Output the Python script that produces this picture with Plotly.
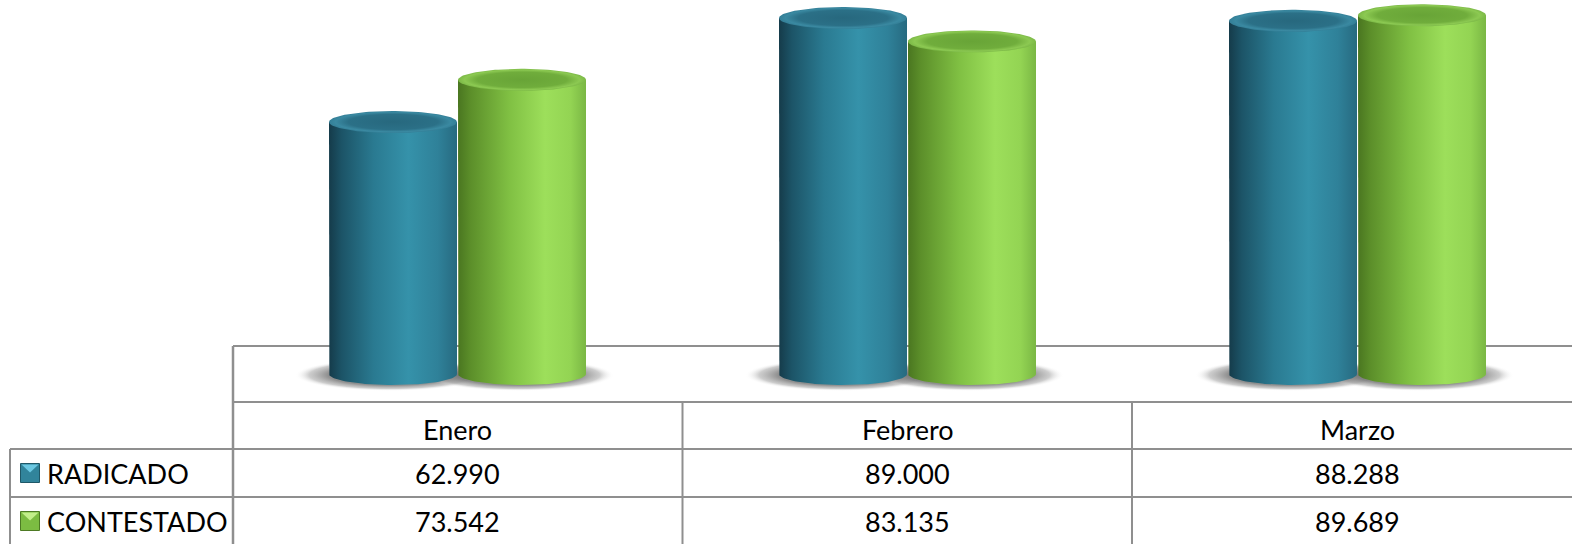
import numpy as np
import plotly.graph_objects as go

# ---------------- data ----------------
categories = ["Enero", "Febrero", "Marzo"]
series_names = ["RADICADO", "CONTESTADO"]
radicado = [62990, 89000, 88288]
contestado = [73542, 83135, 89689]

# ---------------- geometry / style ----------------
W, H = 1572, 544
CAT_PX = 450.0          # pixels per category
CAT0_PX = 457.5         # pixel x of first category centre
BASE_PX = 374.0         # pixel y of value 0
UNITS_PER_PX = 250.0    # value units per vertical pixel
X_RANGE = [-CAT0_PX / CAT_PX, (W - CAT0_PX) / CAT_PX]
Y_RANGE = [-(H - BASE_PX) * UNITS_PER_PX, BASE_PX * UNITS_PER_PX]

HW = 64 / CAT_PX                 # half width of a cylinder (x units)
OFF = 64.5 / CAT_PX              # offset of each cylinder from category centre
RY = 11 * UNITS_PER_PX           # half depth of ellipse (value units)

FONT = "Lato"
FS = 27
LINE_C = "#8f8f8f"

body_scales = [
    [[0, "#153b4a"], [0.1, "#1c5467"], [0.35, "#2a7a91"], [0.62, "#3592aa"],
     [0.85, "#2f8199"], [1, "#276a80"]],
    [[0, "#4a7620"], [0.1, "#5c8f2a"], [0.4, "#80c043"], [0.68, "#9ddf5b"],
     [0.88, "#93d453"], [1, "#7ab744"]],
]
top_scales = [
    [[0, "#27687e"], [0.7, "#2b7087"], [0.9, "#3a89a1"], [1, "#347f97"]],
    [[0, "#68a437"], [0.7, "#70ad3c"], [0.9, "#8cc952"], [1, "#7cb947"]],
]
icon_colors = [("#31849b", "#6cc8e2", "#1f5868"), ("#7cbc42", "#c2ee8a", "#4d7a24")]

values = [radicado, contestado]

fig = go.Figure()

t_low = np.linspace(np.pi, 2 * np.pi, 60)
t_full = np.linspace(0, 2 * np.pi, 120)

# shadows
for s, vals in enumerate(values):
    for i, v in enumerate(vals):
        cx = i + (2 * s - 1) * OFF - 3 / CAT_PX
        sx = HW + 31 / CAT_PX
        sy = 16 * UNITS_PER_PX
        fig.add_trace(go.Scatter(
            x=cx + sx * np.cos(t_full), y=-1 * UNITS_PER_PX + sy * np.sin(t_full),
            mode="lines", line=dict(width=0), fill="toself",
            fillgradient=dict(type="radial", colorscale=[
                [0, "rgba(105,105,105,0.9)"], [0.65, "rgba(115,115,115,0.8)"],
                [0.85, "rgba(155,155,155,0.5)"], [1, "rgba(255,255,255,0)"]]),
            hoverinfo="skip", showlegend=False))

# cylinders
for i in range(len(categories)):
    for s, vals in enumerate(values):
        v = vals[i]
        cx = i + (2 * s - 1) * OFF
        xl, xr = cx - HW, cx + HW
        bx = list(cx + HW * np.cos(t_low))
        by = list(RY * np.sin(t_low))
        xs = [xl, xl] + bx + [xr, xr]
        ys = [v, 0] + by + [0, v]
        xs.append(xl); ys.append(v)
        fig.add_trace(go.Scatter(
            x=xs, y=ys, mode="lines", line=dict(width=0), fill="toself",
            fillgradient=dict(type="horizontal", colorscale=body_scales[s]),
            name=series_names[s], hoverinfo="skip", showlegend=False))
        fig.add_trace(go.Scatter(
            x=cx + HW * np.cos(t_full), y=v + RY * np.sin(t_full),
            mode="lines", line=dict(width=0), fill="toself",
            fillgradient=dict(type="radial", colorscale=top_scales[s]),
            hoverinfo="skip", showlegend=False))

# ---------------- table (drawn in paper coords) ----------------
def px(x):
    return x / W

def py(y):
    return 1 - y / H

shapes = []
def hline(y, x0, x1=W + 20, w=2):
    shapes.append(dict(type="line", xref="paper", yref="paper", x0=px(x0), x1=px(x1),
                       y0=py(y), y1=py(y), line=dict(color=LINE_C, width=w), layer="below"))

def vline(x, y0, y1=H + 10, w=2):
    shapes.append(dict(type="line", xref="paper", yref="paper", x0=px(x), x1=px(x),
                       y0=py(y0), y1=py(y1), line=dict(color=LINE_C, width=w), layer="below"))

hline(346, 233)
hline(402, 233)
hline(449, 10)
hline(497, 10)
vline(233, 346, H + 10, 2.5)
vline(10, 449)
for k in range(1, len(categories)):
    vline(233 + k * 449.5, 402)

annotations = []
header_y = 429
row_y = [473, 521]
for i, c in enumerate(categories):
    annotations.append(dict(x=i, xref="x", y=py(header_y), yref="paper", text=c,
                            showarrow=False, xanchor="center", yanchor="middle",
                            font=dict(family=FONT, size=FS, color="#000")))
    for s, vals in enumerate(values):
        annotations.append(dict(x=i, xref="x", y=py(row_y[s]), yref="paper",
                                text=f"{vals[i]:,}".replace(",", "."),
                                showarrow=False, xanchor="center", yanchor="middle",
                                font=dict(family=FONT, size=FS, color="#000")))

for s, name in enumerate(series_names):
    annotations.append(dict(x=px(45), xref="paper", y=py(row_y[s]), yref="paper",
                            text=name, showarrow=False, xanchor="left", yanchor="middle",
                            font=dict(family=FONT, size=FS, color="#000")))
    base, light, edge = icon_colors[s]
    y0, y1 = row_y[s] - 9.5, row_y[s] + 9.5
    x0, x1 = 20.5, 39.5
    shapes.append(dict(type="rect", xref="paper", yref="paper", x0=px(x0), x1=px(x1),
                       y0=py(y1), y1=py(y0), fillcolor=base,
                       line=dict(color=edge, width=1)))
    shapes.append(dict(type="path", xref="paper", yref="paper",
                       path=f"M {px(x0+1)} {py(y0+1)} L {px(x1-1)} {py(y0+1)} "
                            f"L {px((x0+x1)/2)} {py(y0+9)} Z",
                       fillcolor=light, line=dict(width=0)))

fig.update_layout(
    width=W, height=H,
    margin=dict(l=0, r=0, t=0, b=0),
    paper_bgcolor="white", plot_bgcolor="white",
    xaxis=dict(range=X_RANGE, visible=False, fixedrange=True),
    yaxis=dict(range=Y_RANGE, visible=False, fixedrange=True),
    shapes=shapes, annotations=annotations, showlegend=False,
)

fig.write_html("out.html", config={"displayModeBar": False, "staticPlot": True},
               post_script="document.body.style.margin='0';document.body.style.overflow='hidden';")
